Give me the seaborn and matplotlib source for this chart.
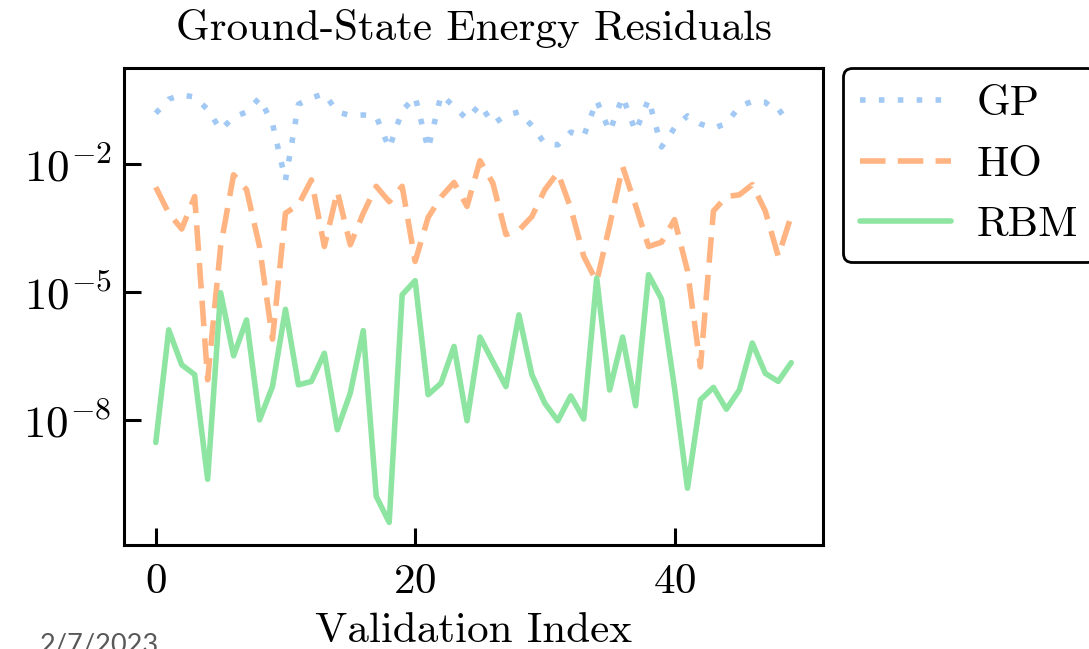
import numpy as np
import pandas as pd
import matplotlib
matplotlib.use("Agg")
import matplotlib.pyplot as plt
import matplotlib.ticker as mticker
import seaborn as sns

# ---- data (log10 of residuals) ----
validation_index = list(range(50))
gp_log10 = [-0.81, -0.48, -0.38, -0.43, -0.72, -1.20, -0.90, -0.78, -0.45, -1.05,
            -2.38, -0.60, -0.45, -0.35, -0.78, -0.86, -0.85, -0.88, -1.63, -0.75,
            -0.42, -1.65, -0.38, -0.65, -0.95, -0.60, -1.06, -0.86, -0.78, -1.10,
            -1.52, -1.55, -1.25, -1.35, -0.51, -1.24, -0.42, -1.24, -0.48, -1.60,
            -1.15, -0.87, -1.06, -1.16, -1.05, -0.65, -0.53, -0.55, -0.82, -0.60]
ho_log10 = [-2.54, -3.15, -3.52, -2.76, -7.05, -3.93, -2.25, -2.60, -3.93, -6.10,
            -3.15, -2.95, -2.37, -3.93, -2.64, -3.89, -3.15, -2.52, -2.88, -2.52,
            -4.28, -3.25, -2.77, -2.43, -2.99, -1.92, -2.45, -3.65, -3.55, -3.23,
            -2.60, -2.20, -3.03, -4.16, -4.75, -3.43, -2.06, -2.97, -3.93, -3.83,
            -3.30, -4.50, -6.75, -3.10, -2.76, -2.72, -2.48, -3.10, -4.16, -3.21]
rbm_log10 = [-8.52, -5.88, -6.70, -6.93, -9.38, -5.01, -6.49, -5.65, -7.99, -7.21,
             -5.40, -7.17, -7.09, -6.43, -8.22, -7.36, -5.90, -9.78, -10.39, -5.06,
             -4.73, -7.40, -7.13, -6.27, -8.01, -6.05, -6.63, -7.21, -5.53, -6.93,
             -7.60, -8.01, -7.43, -7.97, -4.67, -7.29, -6.05, -7.66, -4.59, -5.16,
             -7.24, -9.59, -7.52, -7.23, -7.74, -7.29, -6.19, -6.90, -7.09, -6.65]
models = ["GP", "HO", "RBM"]
y_ticks = [1e-8, 1e-5, 1e-2]
x_ticks = [0, 20, 40]

df = pd.concat([
    pd.DataFrame({"Validation Index": validation_index,
                  "Residual": np.power(10.0, vals),
                  "model": name})
    for name, vals in zip(models, [gp_log10, ho_log10, rbm_log10])
], ignore_index=True)

# ---- style ----
sns.set_theme(style="ticks")
plt.rcParams["font.family"] = ["cmr10", "DejaVu Serif"]
plt.rcParams["mathtext.fontset"] = "cm"
plt.rcParams["axes.formatter.use_mathtext"] = True
plt.rcParams["axes.unicode_minus"] = False
plt.rcParams["text.color"] = "black"
plt.rcParams["axes.labelcolor"] = "black"

pastel = sns.color_palette("pastel")
palette = {"GP": pastel[0], "HO": pastel[1], "RBM": pastel[2]}
dashes = {"GP": (1, 2.4), "HO": (4.6, 2.2), "RBM": ""}

fig = plt.figure(figsize=(10.89, 6.49), dpi=100)
ax = fig.add_axes([124 / 1089, 1 - 545 / 649, (823 - 124) / 1089, (545 - 68) / 649])

sns.lineplot(data=df, x="Validation Index", y="Residual", hue="model", style="model",
             palette=palette, dashes=dashes, linewidth=4.0, legend=False, ax=ax)

ax.set_yscale("log")
ax.set_xlim(-2.45, 51.45)
ax.set_ylim(10 ** -10.92, 10 ** 0.25)
ax.yaxis.set_major_locator(mticker.FixedLocator(y_ticks))
ax.yaxis.set_minor_locator(mticker.NullLocator())
ax.yaxis.set_major_formatter(mticker.LogFormatterSciNotation())
ax.xaxis.set_major_locator(mticker.FixedLocator(x_ticks))
ax.xaxis.set_minor_locator(mticker.NullLocator())

ax.tick_params(axis="both", which="major", direction="in", length=12, width=2.2,
               labelsize=31, color="black", labelcolor="black")
ax.tick_params(axis="y", labelsize=32.5, pad=9)
ax.tick_params(axis="x", pad=13)
for sp in ax.spines.values():
    sp.set_linewidth(2.2)
    sp.set_color("black")
    sp.set_visible(True)

ax.set_title("Ground-State Energy Residuals", fontsize=31, pad=20, color="black")
ax.set_xlabel("Validation Index", fontsize=31, labelpad=9)
ax.set_ylabel("")

handles = ax.get_lines()[:3]
leg = fig.legend(handles, models, loc="upper left",
                 bbox_to_anchor=(843 / 1089, 1 - 68 / 649), borderaxespad=0,
                 fontsize=31, frameon=True, fancybox=True, framealpha=1,
                 edgecolor="black", handlelength=2.1, handletextpad=0.6,
                 labelspacing=0.52, borderpad=0.4)
leg.get_frame().set_linewidth(2)

fig.text(40 / 1089, -4 / 649, "2/7/2023", fontsize=19.5, color="#595959",
         family=["Lato", "DejaVu Sans"], ha="left", va="baseline")

fig.savefig("out.png", dpi=100)
